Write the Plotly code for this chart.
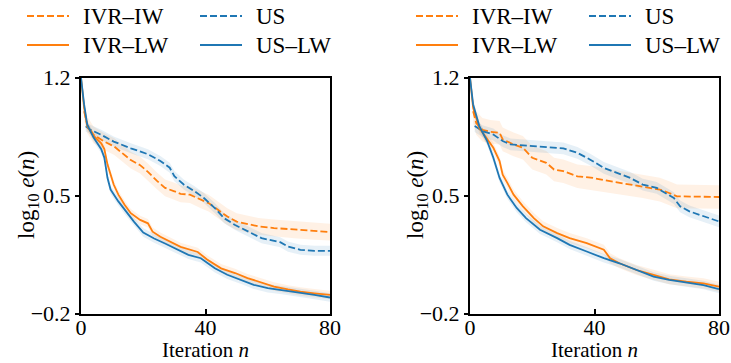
import plotly.graph_objects as go

# ---------------- data ----------------
# Left panel
L_IW_n = [1, 2, 4, 7.5, 10.7, 14, 16, 19, 21.5, 24.5, 27, 30, 32, 35, 38.5, 41, 44, 47, 50, 53.5, 57, 62, 68.5, 75, 80]
L_IW_y = [1.0, 0.92, 0.86, 0.82, 0.79, 0.74, 0.71, 0.68, 0.64, 0.585, 0.545, 0.525, 0.51, 0.505, 0.475, 0.455, 0.415, 0.375, 0.345, 0.33, 0.317, 0.307, 0.297, 0.287, 0.283]
L_US_n = [1.5, 3, 6.5, 10.5, 16, 21.5, 25.5, 28.5, 30, 33, 36.5, 39.5, 43, 46, 49.5, 53.5, 58, 64, 66.5, 70.5, 75, 80]
L_US_y = [0.91, 0.89, 0.86, 0.82, 0.78, 0.745, 0.705, 0.665, 0.615, 0.565, 0.525, 0.485, 0.425, 0.365, 0.325, 0.287, 0.247, 0.223, 0.197, 0.178, 0.172, 0.172]
L_LW_n = [0, 1, 2, 4, 6.5, 7.5, 8.5, 9.5, 10.5, 12, 14, 16, 19, 21.5, 23, 25.5, 29, 32, 37.5, 40.5, 45, 49.5, 53.5, 58, 62, 66.5, 70.5, 75, 80]
L_LW_y = [1.2, 1.02, 0.91, 0.855, 0.81, 0.775, 0.685, 0.625, 0.565, 0.505, 0.445, 0.395, 0.355, 0.335, 0.285, 0.255, 0.225, 0.195, 0.165, 0.12, 0.068, 0.04, 0.01, -0.015, -0.04, -0.057, -0.07, -0.08, -0.09]
L_ULW_n = [0, 1, 2, 4, 6.5, 7.5, 8.5, 9.5, 12, 14, 17, 20, 23.5, 27, 30, 34.5, 38.5, 43, 47, 51.5, 55.5, 60, 64, 68.5, 75, 80]
L_ULW_y = [1.2, 1.04, 0.92, 0.845, 0.775, 0.725, 0.605, 0.535, 0.465, 0.415, 0.345, 0.28, 0.245, 0.215, 0.187, 0.148, 0.128, 0.068, 0.03, 0.0, -0.03, -0.05, -0.06, -0.07, -0.09, -0.105]

# Right panel
R_IW_n = [1, 2, 4, 6.5, 9.5, 10.5, 14, 17, 20, 24.5, 27, 30, 34.5, 39.5, 45, 50.5, 55.5, 61, 64, 66.5, 80]
R_IW_y = [1.0, 0.93, 0.89, 0.878, 0.872, 0.833, 0.803, 0.783, 0.724, 0.694, 0.654, 0.644, 0.614, 0.604, 0.585, 0.569, 0.555, 0.535, 0.515, 0.495, 0.491]
R_US_n = [1.5, 4, 7.5, 10.5, 13, 21.5, 30, 34.5, 38.5, 43, 47, 51.5, 55.5, 60, 65.5, 67.5, 70.5, 75, 80]
R_US_y = [0.912, 0.882, 0.862, 0.823, 0.803, 0.793, 0.779, 0.753, 0.714, 0.664, 0.634, 0.604, 0.565, 0.545, 0.485, 0.436, 0.406, 0.376, 0.346]
R_LW_n = [0, 1, 3, 5.5, 7.5, 9.5, 10.5, 12, 14, 17, 20.5, 23.5, 28, 32, 37.5, 43, 45, 48, 53.5, 59, 64, 69.5, 75, 80]
R_LW_y = [1.2, 1.02, 0.90, 0.833, 0.783, 0.704, 0.624, 0.575, 0.505, 0.436, 0.366, 0.317, 0.277, 0.247, 0.217, 0.178, 0.128, 0.098, 0.058, 0.029, 0.003, -0.011, -0.021, -0.041]
R_ULW_n = [0, 1, 3, 5.5, 7.5, 9.5, 12, 15, 18, 22.5, 28, 32, 37.5, 43, 48, 53.5, 59, 64, 69.5, 75, 80]
R_ULW_y = [1.2, 1.04, 0.912, 0.823, 0.724, 0.604, 0.505, 0.426, 0.366, 0.297, 0.247, 0.207, 0.168, 0.128, 0.098, 0.058, 0.019, -0.001, -0.015, -0.031, -0.055]

# half-width of the shaded band for each series (left, right)
L_SPREAD = [0.05, 0.03, 0.025, 0.025]
R_SPREAD = [0.07, 0.035, 0.03, 0.025]

SERIES_NAMES = ["IVR–IW", "US", "IVR–LW", "US–LW"]
X_TICKS = [0, 40, 80]
Y_TICKS = [-0.2, 0.5, 1.2]
Y_TICKTEXT = ["−0.2", "0.5", "1.2"]

# ---------------- styling ----------------
W, H = 731, 363
ORANGE = "#ff7f0e"
BLUE = "#1f77b4"
ORANGE_FILL = "rgba(255,127,14,0.11)"
BLUE_FILL = "rgba(31,119,180,0.11)"
DASH = "7px,3px"
FONT = "Liberation Serif"
FS = 23
TFS = 22

STYLES = [
    (ORANGE, ORANGE_FILL, DASH),
    (BLUE, BLUE_FILL, DASH),
    (ORANGE, ORANGE_FILL, "solid"),
    (BLUE, BLUE_FILL, "solid"),
]

panels = [
    ("x", "y", [(L_IW_n, L_IW_y), (L_US_n, L_US_y), (L_LW_n, L_LW_y), (L_ULW_n, L_ULW_y)], L_SPREAD),
    ("x2", "y2", [(R_IW_n, R_IW_y), (R_US_n, R_US_y), (R_LW_n, R_LW_y), (R_ULW_n, R_ULW_y)], R_SPREAD),
]

fig = go.Figure()
for xa, ya, series, spreads in panels:
    # bands first
    for (n, y), s, (col, fillc, dash) in zip(series, spreads, STYLES):
        xs = list(n) + list(n)[::-1]
        ys = [v + s for v in y] + [v - s for v in y][::-1]
        fig.add_trace(go.Scatter(x=xs, y=ys, xaxis=xa, yaxis=ya, fill="toself",
                                 fillcolor=fillc, line=dict(width=0), mode="lines",
                                 hoverinfo="skip", showlegend=False))
    for (n, y), name, (col, fillc, dash) in zip(series, SERIES_NAMES, STYLES):
        fig.add_trace(go.Scatter(x=n, y=y, xaxis=xa, yaxis=ya, mode="lines", name=name,
                                 line=dict(color=col, width=1.8, dash=dash),
                                 showlegend=False))

# plot areas in pixels
PLOT_L = [(81, 330), (470, 719)]
PLOT_TOP, PLOT_BOT = 77.5, 313.5

axis_common = dict(showline=True, linewidth=2, linecolor="black", mirror=True,
                   showgrid=False, zeroline=False, tickcolor="black", tickwidth=1.5,
                   automargin=False,
                   tickfont=dict(family=FONT, size=TFS, color="black"))

layout = dict(width=W, height=H, margin=dict(l=0, r=0, t=0, b=0, autoexpand=False),
              paper_bgcolor="white", plot_bgcolor="white", showlegend=False,
              font=dict(family=FONT, size=FS, color="black"))
for i, (xl, xr) in enumerate(PLOT_L):
    sx = "" if i == 0 else str(i + 1)
    layout["xaxis" + sx] = dict(domain=[xl / W, xr / W], range=[0, 80], tickvals=X_TICKS,
                                ticks="inside", ticklen=5, ticklabelstandoff=-7,
                                anchor="y" + sx, **axis_common)
    layout["yaxis" + sx] = dict(domain=[1 - PLOT_BOT / H, 1 - PLOT_TOP / H], range=[-0.2, 1.2],
                                tickvals=Y_TICKS, ticktext=Y_TICKTEXT, ticks="outside", ticklen=4,
                                anchor="x" + sx, **axis_common)
fig.update_layout(**layout)

# axis titles and legends (drawn as text + legend key lines)
shapes = []
annotations = []
for i, (xl, xr) in enumerate(PLOT_L):
    off = xl - 81
    annotations.append(dict(x=(28 + off) / W, y=1 - 195 / H, xref="paper", yref="paper",
                            text="log<sub>10</sub> <i>e</i>(<i>n</i>)", textangle=-90,
                            showarrow=False, xanchor="center", yanchor="middle",
                            font=dict(family=FONT, size=FS)))
    annotations.append(dict(x=(xl + xr) / 2 / W, y=0, xref="paper", yref="paper",
                            text="Iteration <i>n</i>", showarrow=False, borderpad=0,
                            xanchor="center", yanchor="bottom", font=dict(family=FONT, size=21)))
    legend_pos = [(27, 16), (200, 16), (27, 45), (200, 45)]
    for name, (col, fillc, dash), (lx, ly) in zip(SERIES_NAMES, STYLES, legend_pos):
        shapes.append(dict(type="line", xref="paper", yref="paper",
                           x0=(lx + off) / W, x1=(lx + off + 42) / W,
                           y0=1 - ly / H, y1=1 - ly / H,
                           line=dict(color=col, width=1.8, dash=dash)))
        annotations.append(dict(x=(lx + off + 54) / W, y=1 - ly / H, xref="paper", yref="paper",
                                text=name, showarrow=False, xanchor="left", yanchor="middle",
                                font=dict(family=FONT, size=FS)))
fig.update_layout(shapes=shapes, annotations=annotations)

fig.write_html("out.html", config={"displayModeBar": False})
